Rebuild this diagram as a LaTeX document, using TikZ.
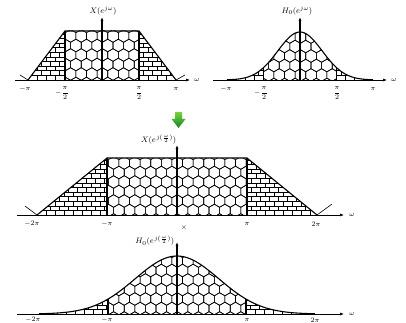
\documentclass[tikz,border=0pt]{standalone}
\usepackage{amsmath}
\usetikzlibrary{arrows.meta}
\definecolor{arrowtop}{RGB}{120,210,60}
\definecolor{arrowbot}{RGB}{20,130,40}
\newcommand{\hexw}{10.6}
\newcommand{\hexs}{3.2}
\newcommand{\hext}{6.3}
\newcommand{\hexh}{9.5}
\newcommand{\brickw}{9}
\newcommand{\brickh}{4.6}
% honeycomb: left x, top y, columns, rows
\newcommand{\hexgrid}[4]{%
  \foreach \i in {0,...,#4}{
    \foreach \j in {0,...,#3}{
      \pgfmathsetmacro{\hx}{#1+\j*\hexw+mod(\i,2)*\hexw/2}
      \pgfmathsetmacro{\hy}{#2+\i*\hexh}
      \draw[pat] (\hx,\hy) +(\hexw/2,-\hexs) -- +(0,-\hext) -- +(-\hexw/2,-\hexs)
        -- +(-\hexw/2,\hexs) -- +(0,\hext) -- +(\hexw/2,\hexs) -- cycle;
    }}}
% bricks: left x, bottom y, columns, rows
\newcommand{\brickgrid}[4]{%
  \foreach \i in {0,...,#4}{
    \pgfmathsetmacro{\by}{#2-\i*\brickh}
    \pgfmathsetmacro{\bt}{\by-\brickh}
    \pgfmathsetmacro{\bo}{#1+mod(\i,2)*\brickw/2}
    \draw[pat] (#1,\bt) -- ++(#3*\brickw+\brickw,0);
    \foreach \k in {0,...,#3}{
      \draw[pat] ({\bo+\k*\brickw},\by) -- ({\bo+\k*\brickw},\bt);
    }}}
\tikzset{
  axis/.style={-{Latex[length=4pt,width=3pt]}, line width=0.6pt},
  outline/.style={line width=1.1pt},
  midline/.style={line width=1.2pt},
  pat/.style={line width=0.6pt},
  ticklbl/.style={font=\scriptsize, inner sep=0.5pt},
  fnlabel/.style={font=\footnotesize, inner sep=0.5pt}
}
\begin{document}
\begin{tikzpicture}[x=1pt, y=-1pt]
  \useasboundingbox (0,0) rectangle (406,323);

  % ---- X(e^{jw}) ----
  \begin{scope}
    \clip (28,80) -- (65,31) -- (65,80) -- cycle;
    \brickgrid{28}{80}{5}{11}
  \end{scope}
  \begin{scope}
    \clip (139,80) -- (139,31) -- (176,80) -- cycle;
    \brickgrid{139}{80}{5}{11}
  \end{scope}
  \begin{scope}
    \clip (65,31) rectangle (139,80);
    \hexgrid{60}{36}{8}{5}
  \end{scope}
  \draw[outline] (28,80) -- (65,31) -- (139,31) -- (176,80);
  \draw[outline] (65,31) -- (65,80) (139,31) -- (139,80);
  \draw[pat] (20,75) -- (28,80) (176,80) -- (185,75);
  \draw[axis] (15,80) -- (190,80);
  \draw[axis, midline] (102,80) -- (102,17);
  \node[fnlabel] (x1) at (103,11) {$X(e^{j\omega})$};
  \node[ticklbl] (x1w) at (197,80) {$\omega$};
  \node[ticklbl] (x1a) at (25,89) {$-\pi$};
  \node[ticklbl] (x1b) at (62,93) {$-\dfrac{\pi}{2}$};
  \node[ticklbl] (x1c) at (139,93) {$\dfrac{\pi}{2}$};
  \node[ticklbl] (x1d) at (176,89) {$\pi$};

  % ---- H0(e^{jw}) ----
  \begin{scope}
    \clip (227,80) -- plot[domain=-pi:-pi/2, samples=30]
      ({300+\x*73/pi}, {80-48*exp(-0.55*\x*\x)}) -- (263.5,80) -- cycle;
    \brickgrid{227}{80}{5}{3}
  \end{scope}
  \begin{scope}
    \clip (336.5,80) -- plot[domain=pi/2:pi, samples=30]
      ({300+\x*73/pi}, {80-48*exp(-0.55*\x*\x)}) -- (373,80) -- cycle;
    \brickgrid{336.5}{80}{5}{3}
  \end{scope}
  \begin{scope}
    \clip (263.5,80) -- plot[domain=-pi/2:pi/2, samples=50]
      ({300+\x*73/pi}, {80-48*exp(-0.55*\x*\x)}) -- (336.5,80) -- cycle;
    \hexgrid{258}{37}{8}{5}
  \end{scope}
  \draw[outline] plot[domain=-pi:pi, samples=90]
    ({300+\x*73/pi}, {80-48*exp(-0.55*\x*\x)});
  \draw[outline] (263.5,80) -- (263.5,68.4) (336.5,80) -- (336.5,68.4);
  \draw[axis] (213,80) -- (387,80);
  \draw[axis, midline] (300,80) -- (300,17);
  \node[fnlabel] (h1) at (297,11) {$H_0(e^{j\omega})$};
  \node[ticklbl] (h1w) at (394,80) {$\omega$};
  \node[ticklbl] (h1a) at (226,89) {$-\pi$};
  \node[ticklbl] (h1b) at (261,93) {$-\dfrac{\pi}{2}$};
  \node[ticklbl] (h1c) at (337,93) {$\dfrac{\pi}{2}$};
  \node[ticklbl] (h1d) at (373,89) {$\pi$};

  % ---- green arrow ----
  \shade[top color=arrowtop, bottom color=arrowbot]
    (175,112) -- (182,112) -- (182,119) -- (185.5,119) -- (178.5,128)
    -- (171.5,119) -- (175,119) -- cycle;

  % ---- X(e^{j(w/2)}) ----
  \begin{scope}
    \clip (37,215) -- (107,158) -- (107,215) -- cycle;
    \brickgrid{37}{215}{8}{13}
  \end{scope}
  \begin{scope}
    \clip (247,215) -- (247,158) -- (317,215) -- cycle;
    \brickgrid{247}{215}{8}{13}
  \end{scope}
  \begin{scope}
    \clip (107,158) rectangle (247,215);
    \hexgrid{103}{163}{14}{6}
  \end{scope}
  \draw[outline] (37,215) -- (107,158) -- (247,158) -- (317,215);
  \draw[outline] (107,158) -- (107,215) (247,158) -- (247,215);
  \draw[pat] (25,206) -- (37,215) (317,215) -- (332,204);
  \draw[axis] (17,215) -- (344,215);
  \draw[axis, midline] (177,215) -- (177,145);
  \node[fnlabel, anchor=east] (x2) at (177,140) {$X(e^{\mkern1mu j(\frac{\omega}{2})})$};
  \node[ticklbl] (x2w) at (352,215) {$\omega$};
  \node[ticklbl] (x2a) at (32,224) {$-2\pi$};
  \node[ticklbl] (x2b) at (107,224) {$-\pi$};
  \node[ticklbl] (x2c) at (247,224) {$\pi$};
  \node[ticklbl] (x2d) at (316,224) {$2\pi$};

  % ---- H0(e^{j(w/2)}) ----
  \begin{scope}
    \clip (39,314) -- plot[domain=-2*pi:-pi, samples=30]
      ({177+\x*69/pi}, {314-58*exp(-0.1375*\x*\x)}) -- (108,314) -- cycle;
    \brickgrid{39}{314}{8}{3}
  \end{scope}
  \begin{scope}
    \clip (246,314) -- plot[domain=pi:2*pi, samples=30]
      ({177+\x*69/pi}, {314-58*exp(-0.1375*\x*\x)}) -- (315,314) -- cycle;
    \brickgrid{246}{314}{8}{3}
  \end{scope}
  \begin{scope}
    \clip (108,314) -- plot[domain=-pi:pi, samples=60]
      ({177+\x*69/pi}, {314-58*exp(-0.1375*\x*\x)}) -- (246,314) -- cycle;
    \hexgrid{103}{261}{14}{6}
  \end{scope}
  \draw[outline] plot[domain=-2*pi:2*pi, samples=120]
    ({177+\x*69/pi}, {314-58*exp(-0.1375*\x*\x)});
  \draw[outline] (108,314) -- (108,299) (246,314) -- (246,299);
  \draw[axis] (17,314) -- (344,314);
  \draw[axis, midline] (177,314) -- (177,242);
  \node[fnlabel, anchor=east] (h2) at (175,241) {$H_0(e^{\mkern1mu j(\frac{\omega}{2})})$};
  \node[ticklbl] (h2x) at (184,228) {$\times$};
  \node[ticklbl] (h2w) at (352,314) {$\omega$};
  \node[ticklbl] (h2a) at (33,320) {$-2\pi$};
  \node[ticklbl] (h2b) at (107,320) {$-\pi$};
  \node[ticklbl] (h2c) at (247,320) {$\pi$};
  \node[ticklbl] (h2d) at (315,320) {$2\pi$};
\end{tikzpicture}
\end{document}
